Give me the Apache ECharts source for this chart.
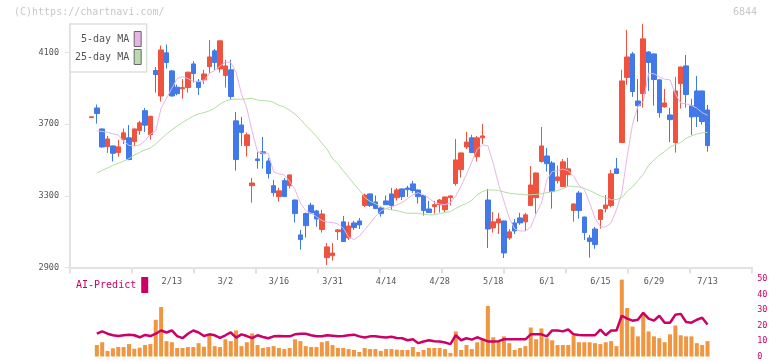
<!DOCTYPE html>
<html>
<head>
    <meta charset="UTF-8">
    <title>6844 daily chart</title>
    <script type="text/javascript" src="https://cdn.jsdelivr.net/npm/echarts@6/dist/echarts.min.js"></script>
    <style>
        html, body {
            margin: 0;
            padding: 0;
            background: #fff;
        }
        #main {
            width: 772px;
            height: 361px;
        }
    </style>
</head>
<body>
<div id="main"></div>
<script>
    // trading days shown on the chart
    var dates = [
        '1/22','1/23','1/26','1/27','1/28','1/29','1/30',
        '2/2','2/3','2/4','2/5','2/6','2/9','2/10','2/12','2/13','2/16','2/17','2/18','2/19','2/20','2/24','2/25','2/26','2/27',
        '3/2','3/3','3/4','3/5','3/6','3/9','3/10','3/11','3/12','3/13','3/16','3/17','3/18','3/19','3/23','3/24','3/25','3/26','3/27','3/30','3/31',
        '4/1','4/2','4/3','4/6','4/7','4/8','4/9','4/10','4/13','4/14','4/15','4/16','4/17','4/20','4/21','4/22','4/23','4/24','4/27','4/28','4/30',
        '5/1','5/7','5/8','5/11','5/12','5/13','5/14','5/15','5/18','5/19','5/20','5/21','5/22','5/25','5/26','5/27','5/28','5/29',
        '6/1','6/2','6/3','6/4','6/5','6/8','6/9','6/10','6/11','6/12','6/15','6/16','6/17','6/18','6/19','6/22','6/23','6/24','6/25','6/26','6/29','6/30',
        '7/1','7/2','7/3','7/6','7/7','7/8','7/9','7/10','7/13'
    ];
    var tickLabels = ['2/13','3/2','3/16','3/31','4/14','4/28','5/18','6/1','6/15','6/29','7/13'];

    var opens = [
        3737,3791,3674,3575,3579,3542,3614,3624,3603,3665,3776,3642,4000,3858,4099,3998,3907,3898,3905,4037,
        3940,3948,4022,4110,4009,3972,4004,3719,3696,3581,3357,3506,3546,3495,3357,3296,3385,3357,3277,3082,
        3201,3248,3216,3112,2955,2966,3100,3155,3065,3149,3160,3246,3311,3266,3233,3272,3311,3290,3339,3344,
        3367,3333,3302,3227,3240,3251,3223,3290,3369,3447,3573,3624,3519,3624,3277,3121,3149,3160,3065,3149,
        3177,3155,3246,3290,3492,3523,3484,3385,3352,3419,3218,3316,3182,3065,3115,3168,3229,3246,3451,3598,
        3961,4093,3830,3871,4104,4093,3948,3797,3752,3598,3927,4026,3803,3886,3886,3780
    ];
    var closes = [
        3742,3760,3573,3618,3538,3574,3652,3503,3674,3708,3695,3745,3978,4115,4045,3858,3871,3905,3991,3983,
        3905,3981,4076,4045,4166,4026,3855,3503,3654,3641,3372,3497,3536,3425,3318,3328,3296,3417,3201,3056,
        3134,3205,3171,3199,3015,2981,3110,3045,3132,3123,3138,3305,3246,3229,3201,3251,3246,3333,3296,3335,
        3330,3296,3218,3207,3251,3277,3294,3300,3501,3540,3601,3542,3624,3635,3115,3155,3171,2981,3099,3104,
        3149,3194,3361,3428,3579,3480,3324,3406,3490,3451,3255,3218,3095,3045,3028,3222,3249,3423,3425,3942,
        4076,3883,3804,4177,4045,3950,3765,3819,3726,3886,4020,3866,3741,3743,3715,3581
    ];
    var lows = [
        3737,3704,3570,3540,3492,3519,3590,3499,3579,3641,3657,3614,3877,3827,4011,3855,3862,3843,3877,3933,
        3864,3925,3985,4004,3989,3905,3836,3441,3579,3520,3262,3452,3452,3397,3296,3268,3296,3341,3151,3000,
        3067,3199,3128,3095,2914,2938,3054,3043,3054,3110,3115,3238,3238,3227,3184,3249,3222,3274,3277,3294,
        3317,3257,3190,3205,3201,3207,3210,3246,3357,3402,3562,3540,3492,3590,3009,3095,3087,2953,3054,3087,
        3138,3104,3244,3201,3486,3436,3229,3369,3350,3352,3156,3173,3054,2955,3005,3117,3207,3236,3423,3596,
        3920,3853,3715,3793,3886,3804,3737,3793,3601,3542,3788,3793,3641,3685,3698,3547
    ];
    var highs = [
        3742,3810,3676,3635,3581,3613,3676,3696,3676,3719,3791,3747,4020,4140,4145,4004,3922,3952,3993,4052,
        3953,4004,4171,4121,4168,4060,4060,3769,3741,3654,3400,3546,3629,3512,3389,3346,3400,3419,3279,3110,
        3207,3262,3222,3222,3037,3037,3115,3188,3155,3160,3177,3313,3313,3302,3240,3302,3344,3344,3341,3356,
        3384,3335,3304,3272,3272,3283,3296,3302,3618,3542,3657,3641,3635,3702,3339,3210,3205,3162,3115,3171,
        3205,3205,3467,3430,3685,3568,3495,3469,3506,3512,3257,3328,3184,3082,3127,3224,3305,3445,3512,4004,
        4227,4104,3953,4261,4106,4095,3950,3898,3791,3965,4022,4087,3842,3970,3888,3808
    ];

    var ma5 = [
        null,3663,3660,3655,3647,3641,3605,3582,3579,3585,3609,3645,3663,3790,3845,3901,3955,3966,3955,3940,
        3938,3942,3985,4000,4025,4048,4045,3990,3870,3790,3660,3547,3538,3538,3434,3423,3417,3380,3335,3260,
        3218,3203,3184,3162,3153,3152,3143,3120,3070,3056,3075,3110,3147,3185,3215,3230,3237,3250,3263,3285,
        3306,3318,3306,3287,3263,3255,3250,3262,3300,3355,3420,3490,3560,3585,3580,3482,3365,3270,3175,3115,
        3104,3104,3125,3200,3259,3390,3436,3440,3450,3440,3410,3360,3335,3260,3175,3128,3126,3150,3222,3315,
        3520,3700,3800,3827,3985,3982,3965,3952,3948,3870,3818,3814,3805,3790,3765,3750
    ];
    var ma25 = [
        null,3428,3442,3456,3470,3482,3494,3508,3528,3543,3557,3568,3590,3618,3645,3669,3690,3710,3728,3745,
        3758,3765,3775,3790,3812,3830,3838,3840,3840,3842,3845,3835,3832,3830,3822,3806,3796,3778,3757,3728,
        3693,3665,3632,3595,3560,3507,3480,3440,3404,3367,3332,3290,3270,3256,3240,3228,3222,3218,3210,3203,
        3203,3203,3198,3194,3194,3201,3207,3212,3230,3245,3258,3276,3305,3325,3333,3333,3330,3322,3315,3311,
        3309,3306,3306,3308,3312,3318,3323,3330,3340,3354,3353,3350,3342,3330,3315,3300,3290,3278,3280,3290,
        3326,3350,3385,3420,3470,3500,3527,3548,3572,3588,3598,3622,3635,3646,3652,3655
    ];

    var volume = [
        null,7.4,9.2,3.6,5.3,6.1,6.1,8.0,5.0,5.7,7.4,8.0,23.7,31.9,9.9,9.2,5.5,5.5,6.1,6.1,
        8.6,6.3,13.7,6.7,6.1,11.1,9.9,16.8,6.7,9.2,14.9,7.4,5.5,6.1,6.7,5.5,4.8,5.5,11.1,9.9,
        6.7,6.1,6.1,9.2,9.9,7.4,5.5,5.5,4.8,4.2,2.9,5.5,4.8,4.8,3.6,4.8,4.8,4.4,4.2,4.2,
        6.1,2.9,4.2,5.5,5.5,5.5,4.8,2.3,16.2,4.2,7.4,4.8,9.2,11.8,32.6,12.4,9.9,13.0,8.6,4.2,
        5.5,6.7,18.7,11.1,18.1,11.8,10.5,7.4,7.4,7.4,13.7,9.2,9.2,9.2,8.6,8.0,9.2,9.9,6.7,49.6,
        31.3,19.3,13.0,27.5,16.2,13.0,11.8,9.2,14.3,20.0,13.7,13.0,13.0,8.6,7.4,9.9
    ];
    var aiPredict = [
        null,14.7,16.2,14.7,13.7,13.2,13.7,14.1,13.7,12.4,13.9,13.2,14.7,16.8,15.5,16.8,13.2,11.8,14.7,16.8,
        15.5,13.2,14.3,13.7,12.0,13.7,15.5,12.2,14.3,13.2,11.8,13.7,12.6,11.8,13.0,13.2,13.0,13.0,14.3,14.7,
        14.7,13.7,13.0,13.0,13.7,13.4,13.0,13.2,13.7,14.1,13.0,12.2,13.0,13.0,12.6,12.2,12.7,12.0,11.8,10.5,
        11.1,8.6,9.7,10.5,9.9,9.7,9.0,8.0,13.7,10.5,11.8,10.9,12.4,11.1,9.7,9.7,9.9,11.1,11.1,11.1,
        11.1,11.1,14.3,14.3,14.3,13.0,16.8,16.8,16.2,17.4,14.3,13.9,13.7,13.7,13.7,17.4,13.7,16.8,16.8,26.3,
        24.4,23.1,23.7,28.2,24.4,23.1,26.3,21.8,21.8,26.9,27.5,22.3,21.8,23.7,25.0,20.6
    ];

    var priceTicks = [2900, 3300, 3700, 4100];

    var MONO = 'DejaVu Sans Mono';
    var UP = '#ef5340';
    var DOWN = '#4279e8';
    var AXIS = '#e2e2e2';

    function buildChart() {
        var candles = [];
        for (var i = 0; i < dates.length; i++) {
            candles.push([opens[i], closes[i], lows[i], highs[i]]);
        }

        var chart = echarts.init(document.getElementById('main'));
        var option = {
            animation: false,
            title: [
                {
                    text: '(C)https://chartnavi.com/',
                    left: 14, top: 7, padding: 0,
                    textStyle: {fontFamily: MONO, fontSize: 10, fontWeight: 'normal', color: '#c8c8c8'}
                },
                {
                    text: '6844',
                    right: 15, top: 7, padding: 0,
                    textStyle: {fontFamily: MONO, fontSize: 10, fontWeight: 'normal', color: '#c8c8c8'}
                }
            ],
            legend: [
                {
                    data: [{name: '5-day MA'}, {name: '25-day MA'}],
                    orient: 'vertical',
                    align: 'right',
                    left: 70,
                    top: 24,
                    icon: 'rect',
                    itemWidth: 7,
                    itemHeight: 15,
                    itemGap: 2,
                    padding: [7, 5, 7, 5],
                    backgroundColor: '#fff',
                    borderColor: '#dedede',
                    borderWidth: 1.5,
                    selectedMode: false,
                    itemStyle: {borderColor: '#666', borderWidth: 1},
                    textStyle: {fontFamily: MONO, fontSize: 10, color: '#555'}
                },
                {
                    data: [{name: 'AI-Predict'}],
                    align: 'right',
                    left: 76,
                    top: 277,
                    padding: 0,
                    icon: 'rect',
                    itemWidth: 7,
                    itemHeight: 16,
                    selectedMode: false,
                    itemStyle: {borderWidth: 0},
                    textStyle: {fontFamily: MONO, fontSize: 10, color: '#cc0066'}
                }
            ],
            grid: [
                {left: 88.8, right: 61.8, top: 24, bottom: 93.5},
                {left: 70, right: 20, top: 24, bottom: 93.5},
                {left: 88.8, right: 61.8, top: 279, bottom: 2}
            ],
            xAxis: [
                {
                    type: 'category',
                    gridIndex: 0,
                    data: dates,
                    boundaryGap: true,
                    axisLine: {show: false},
                    axisTick: {show: false},
                    splitLine: {show: false},
                    axisLabel: {
                        interval: function (idx, val) { return tickLabels.indexOf(val) >= 0; },
                        margin: 10,
                        fontFamily: MONO,
                        fontSize: 8.5,
                        color: '#555'
                    }
                },
                {
                    type: 'value',
                    gridIndex: 1,
                    min: 0,
                    max: 11,
                    interval: 1,
                    axisLine: {lineStyle: {color: AXIS, width: 2}},
                    axisTick: {show: true, length: 6, lineStyle: {color: AXIS, width: 2}},
                    axisLabel: {show: false},
                    splitLine: {show: false}
                },
                {
                    type: 'category',
                    gridIndex: 2,
                    data: dates,
                    boundaryGap: true,
                    show: false
                }
            ],
            yAxis: [
                {
                    type: 'value',
                    gridIndex: 0,
                    min: 2900,
                    max: 4260,
                    show: false
                },
                {
                    type: 'value',
                    gridIndex: 1,
                    min: 2900,
                    max: 4260,
                    interval: 400,
                    axisLine: {show: true, lineStyle: {color: AXIS, width: 2}},
                    axisTick: {show: true, length: 5, customValues: priceTicks, lineStyle: {color: AXIS, width: 1}},
                    axisLabel: {
                        customValues: priceTicks,
                        margin: 11,
                        fontFamily: MONO,
                        fontSize: 8.5,
                        color: '#555',
                        formatter: function (v) { return String(v); }
                    },
                    splitLine: {show: false}
                },
                {
                    type: 'value',
                    gridIndex: 2,
                    min: 0,
                    max: 50,
                    interval: 10,
                    position: 'right',
                    offset: 42,
                    axisLine: {show: false},
                    axisTick: {show: false},
                    splitLine: {show: false},
                    axisLabel: {margin: 5, fontFamily: MONO, fontSize: 8.5, color: '#cc0066'}
                }
            ],
            series: [
                {
                    name: 'price',
                    type: 'candlestick',
                    xAxisIndex: 0,
                    yAxisIndex: 0,
                    data: candles,
                    barWidth: 5,
                    itemStyle: {
                        color: UP,
                        color0: DOWN,
                        borderColor: UP,
                        borderColor0: DOWN,
                        borderWidth: 1
                    }
                },
                {
                    name: '5-day MA',
                    type: 'line',
                    xAxisIndex: 0,
                    yAxisIndex: 0,
                    data: ma5,
                    showSymbol: false,
                    color: '#e8b4e8',
                    lineStyle: {width: 1, color: '#e8b4e8'}
                },
                {
                    name: '25-day MA',
                    type: 'line',
                    xAxisIndex: 0,
                    yAxisIndex: 0,
                    data: ma25,
                    showSymbol: false,
                    color: '#b8dcb0',
                    lineStyle: {width: 1, color: '#b4dca4'}
                },
                {
                    name: 'volume',
                    type: 'bar',
                    xAxisIndex: 2,
                    yAxisIndex: 2,
                    data: volume,
                    barWidth: 4,
                    itemStyle: {color: '#f09640'}
                },
                {
                    name: 'AI-Predict',
                    type: 'line',
                    xAxisIndex: 2,
                    yAxisIndex: 2,
                    data: aiPredict,
                    showSymbol: false,
                    color: '#cc0066',
                    lineStyle: {width: 2.5, color: '#cc0066'}
                }
            ]
        };
        chart.setOption(option);
    }

    buildChart();
</script>
</body>
</html>
